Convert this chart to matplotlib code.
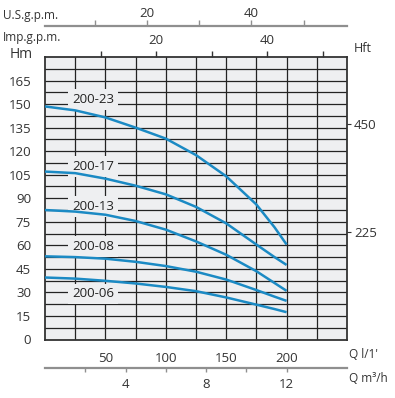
import matplotlib
matplotlib.use('Agg')
import matplotlib.pyplot as plt
import numpy as np

plt.rcParams['font.family'] = ['Open Sans', 'DejaVu Sans']

# flow in l/min, head in m
q = [0, 25, 50, 75, 100, 125, 150, 175, 190, 200]
h_2023 = [148.5, 146, 141.5, 135, 128, 117.5, 104, 86, 71.5, 60.5]
h_2017 = [107, 106, 102.5, 98, 92.5, 84.5, 74, 60.5, 52.5, 47.5]
h_2013 = [82.5, 81.5, 79.5, 75.5, 70, 62.5, 54, 43.5, 36, 31]
h_2008 = [53, 52.5, 51.5, 49.5, 46.8, 43.2, 38.2, 31.5, 27.3, 24.6]
h_2006 = [39.5, 38.8, 37.4, 35.7, 33.5, 30.8, 26.8, 22.2, 19.4, 17.4]
curves = [h_2023, h_2017, h_2013, h_2008, h_2006]
names = ['200-23', '200-17', '200-13', '200-08', '200-06']
label_h = [153, 110.5, 85, 59, 29]
label_q = 40

y_ticks = np.arange(0, 166, 15)
x_ticks = [50, 100, 150, 200]
ft_ticks = [225, 450]
imp_ticks = [10, 20, 30, 40, 50]
us_ticks = [10, 20, 30, 40, 50]
m3h_ticks = [2, 4, 6, 8, 10, 12]

blue = '#1b8ac4'
grid_c = '#232323'
txt_c = '#333333'
axis_grey = '#8f8f8f'
bg = '#eeeff1'

W, H = 395, 398
fig = plt.figure(figsize=(W / 100, H / 100), dpi=100)
L, R, T, B = 45, 347, 57, 339.5
ax = fig.add_axes([L / W, 1 - B / H, (R - L) / W, (B - T) / H])
ax.set_xlim(0, 250)
ax.set_ylim(0, 180)
ax.set_facecolor(bg)

# grid: every 25 l/min and every 7.5 m
for gx in np.arange(25, 250, 25):
    ax.axvline(gx, color=grid_c, lw=0.9, zorder=1)
for gy in np.arange(7.5, 180, 7.5):
    ax.axhline(gy, color=grid_c, lw=0.9, zorder=1)

ax.set_xticks(x_ticks)
ax.set_yticks(y_ticks)
ax.tick_params(which='both', length=0, labelsize=9.5, colors=txt_c)
ax.tick_params(axis='y', pad=10)
ax.tick_params(axis='x', pad=9)
for s in ax.spines.values():
    s.set_color('#333333')
    s.set_linewidth(1.3)

for hh in curves:
    ax.plot(q, hh, color=blue, lw=1.8, zorder=4, solid_capstyle='butt',
            solid_joinstyle='round')

for name, lh in zip(names, label_h):
    ax.text(label_q, lh, name, ha='center', va='center', fontsize=9.5,
            color='#222222', zorder=3,
            bbox=dict(boxstyle='square,pad=0.3', fc=bg, ec='none'))

# top: Imp.g.p.m.
imp = ax.secondary_xaxis('top', functions=(lambda x: x / 4.6, lambda g: g * 4.6))
imp.set_xticks(imp_ticks, labels=['', '20', '', '40', ''])
imp.tick_params(length=4, width=1, colors=txt_c, labelsize=9.5, pad=3)
imp.spines['top'].set_visible(False)

# right: Hft
ft = ax.secondary_yaxis('right', functions=(lambda m: m * 3.2808, lambda f: f / 3.2808))
ft.set_yticks(ft_ticks)
ft.tick_params(length=3, width=0.8, colors=txt_c, labelsize=9.5, pad=2)
ft.spines['right'].set_visible(False)

# U.S.g.p.m. scale line
ax_us = fig.add_axes([L / W, 1 - 26.5 / H, (R - L) / W, 0.0001])
ax_us.set_xlim(0, 250)
for k, s in ax_us.spines.items():
    s.set_visible(k == 'top')
ax_us.spines['top'].set_color(axis_grey)
ax_us.spines['top'].set_linewidth(1.6)
ax_us.set_yticks([])
ax_us.xaxis.tick_top()
ax_us.set_xticks([4.32 * g - 2 for g in us_ticks], labels=['', '20', '', '40', ''])
ax_us.tick_params(axis='x', length=4, width=1, color=axis_grey, labelcolor=txt_c,
                  labelsize=9.5, pad=1)
ax_us.patch.set_visible(False)

# Q m3/h scale line
ax_m3 = fig.add_axes([L / W, 1 - 368 / H, (R - L) / W, 0.0001])
ax_m3.set_xlim(0, 250)
for k, s in ax_m3.spines.items():
    s.set_visible(k == 'bottom')
ax_m3.spines['bottom'].set_color(axis_grey)
ax_m3.spines['bottom'].set_linewidth(1.6)
ax_m3.set_yticks([])
ax_m3.set_xticks([m * 1000 / 60 for m in m3h_ticks], labels=['', '4', '', '8', '', '12'])
ax_m3.tick_params(axis='x', length=3, width=1, color=axis_grey, labelcolor=txt_c,
                  labelsize=9.5, pad=4)
ax_m3.patch.set_visible(False)

fig.text(3 / W, 1 - 15 / H, 'U.S.g.p.m.', fontsize=8.5, color=txt_c, va='center', ha='left')
fig.text(3 / W, 1 - 37 / H, 'Imp.g.p.m.', fontsize=8.5, color=txt_c, va='center', ha='left')
fig.text(21 / W, 1 - 55 / H, 'Hm', fontsize=10, color=txt_c, va='center', ha='center')
fig.text(363 / W, 1 - 48 / H, 'Hft', fontsize=9, color=txt_c, va='center', ha='center')
fig.text(349 / W, 1 - 355 / H, "Q l/1'", fontsize=8.5, color=txt_c, va='center', ha='left')
fig.text(349 / W, 1 - 379 / H, 'Q m³/h', fontsize=8.5, color=txt_c, va='center', ha='left')

fig.savefig('out.png', dpi=100, facecolor='white')
